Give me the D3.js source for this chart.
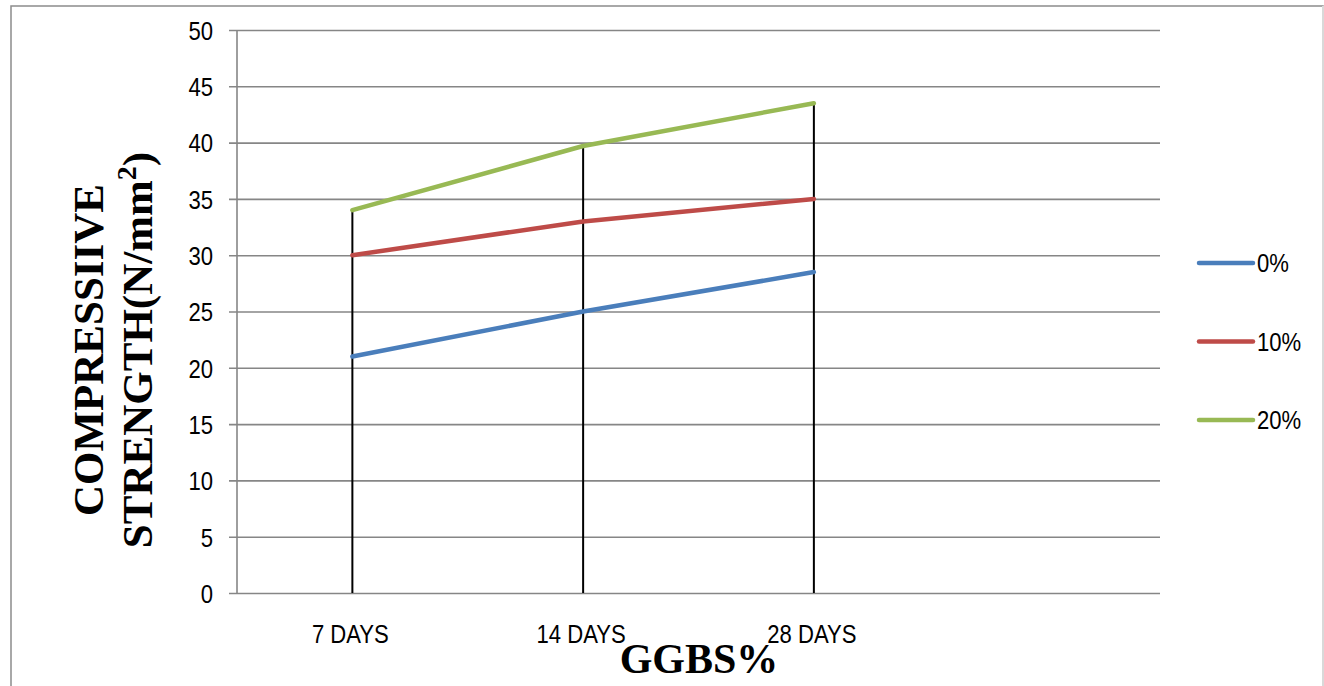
<!DOCTYPE html>
<html>
<head>
<meta charset="utf-8">
<script src="https://cdn.jsdelivr.net/npm/d3@7/dist/d3.min.js"></script>
<style>
  html, body { margin: 0; padding: 0; background: #fff; }
  svg { display: block; }
</style>
</head>
<body>
<svg id="chart" width="1324" height="686"></svg>
<script>
const categories = ["7 DAYS", "14 DAYS", "28 DAYS", ""];
const seriesNames = ["0%", "10%", "20%"];
const values0 = [21, 25, 28.5];
const values10 = [30, 33, 35];
const values20 = [34, 39.7, 43.5];
const yTicks = [0, 5, 10, 15, 20, 25, 30, 35, 40, 45, 50];
const colors = ["#4a7ebb", "#be4b48", "#98b954"];
const yTitleLines = ["COMPRESSIIVE", "STRENGTH(N/mm"];
const xTitle = "GGBS%";

(function () {
const series = [values0, values10, values20];
const svg = d3.select("#chart");
const tickFont = "'Liberation Sans', Arial, sans-serif";
const serif = "'Liberation Serif', 'Times New Roman', serif";
const SX = 0.85; // condensed look of the original sans labels

// move x/y of a text into a transform with a horizontal squeeze
function narrow(sel) {
  sel.each(function () {
    const t = d3.select(this);
    const tx = +t.attr("x") || 0, ty = +t.attr("y") || 0;
    t.attr("x", 0).attr("y", 0)
      .attr("transform", `translate(${tx},${ty}) scale(${SX},1)`);
  });
}

// outer frame
svg.append("rect").attr("x", 11).attr("y", 6).attr("width", 1312).attr("height", 700)
  .attr("fill", "none").attr("stroke", "#8c8c8c").attr("stroke-width", 1.5);
svg.append("line").attr("x1", 1323).attr("x2", 1323).attr("y1", 6).attr("y2", 686)
  .attr("stroke", "#d9d9d9").attr("stroke-width", 2);

const pLeft = 237, pRight = 1160, pTop = 30, pBottom = 593;
const x = d3.scaleBand().domain(categories).range([pLeft, pRight]);
const y = d3.scaleLinear().domain([0, 50]).range([pBottom, pTop]);
const cx = d => x(d) + x.bandwidth() / 2;

// gridlines and y axis
const yAxis = d3.axisLeft(y).tickValues(yTicks).tickSize(pRight - pLeft + 8).tickPadding(16);
const gy = svg.append("g").attr("transform", `translate(${pRight},0)`).call(yAxis);
gy.select(".domain").remove();
gy.selectAll(".tick line").attr("stroke", "#868686").attr("stroke-width", 1.6);
gy.selectAll(".tick text").attr("font-family", tickFont).attr("font-size", 26).attr("fill", "#000")
  .attr("dy", "0.36em").call(narrow);

svg.append("line").attr("x1", pLeft).attr("x2", pLeft).attr("y1", pTop).attr("y2", pBottom)
  .attr("stroke", "#868686").attr("stroke-width", 1.6);

// drop lines (high-low lines)
const used = categories.slice(0, values20.length);
svg.append("g").selectAll("line").data(used).join("line")
  .attr("x1", d => cx(d)).attr("x2", d => cx(d))
  .attr("y1", (d, i) => y(d3.max(series, s => s[i])))
  .attr("y2", y(0))
  .attr("stroke", "#000").attr("stroke-width", 2);

// series lines
const line = d3.line().x((d, i) => cx(categories[i])).y(d => y(d));
series.forEach((s, k) => {
  svg.append("path").datum(s).attr("d", line)
    .attr("fill", "none").attr("stroke", colors[k]).attr("stroke-width", 4.5)
    .attr("stroke-linecap", "round").attr("stroke-linejoin", "round");
});

// x category labels
svg.append("g").selectAll("text").data(used).join("text")
  .attr("x", d => cx(d) - 2).attr("y", 643)
  .attr("text-anchor", "middle").attr("font-family", tickFont).attr("font-size", 26)
  .attr("fill", "#000").text(d => d).call(narrow);

// x title
svg.append("text").attr("x", 699).attr("y", 673).attr("text-anchor", "middle")
  .attr("font-family", serif).attr("font-weight", "bold").attr("font-size", 42)
  .attr("fill", "#000").text(xTitle);

// y title (two rotated lines)
const yt = svg.append("text").attr("transform", "translate(103,350) rotate(-90)")
  .attr("text-anchor", "middle").attr("font-family", serif).attr("font-weight", "bold")
  .attr("font-size", 43).attr("fill", "#000");
yt.append("tspan").attr("x", 0).attr("y", 0).text(yTitleLines[0]);
yt.append("tspan").attr("x", 0).attr("y", 49).text(yTitleLines[1]);
yt.append("tspan").attr("dy", -16).attr("font-size", 28).text("2");
yt.append("tspan").attr("dy", 16).text(")");

// legend
const lg = svg.append("g").selectAll("g").data(seriesNames).join("g")
  .attr("transform", (d, i) => `translate(1199, ${263 + i * 78.5})`);
lg.append("line").attr("x1", 0).attr("x2", 54).attr("y1", 0).attr("y2", 0)
  .attr("stroke", (d, i) => colors[i]).attr("stroke-width", 4.5).attr("stroke-linecap", "round");
lg.append("text").attr("x", 58).attr("y", 0).attr("dy", "0.36em")
  .attr("font-family", tickFont).attr("font-size", 26).attr("fill", "#000").text(d => d)
  .call(narrow);
})();
</script>
</body>
</html>
